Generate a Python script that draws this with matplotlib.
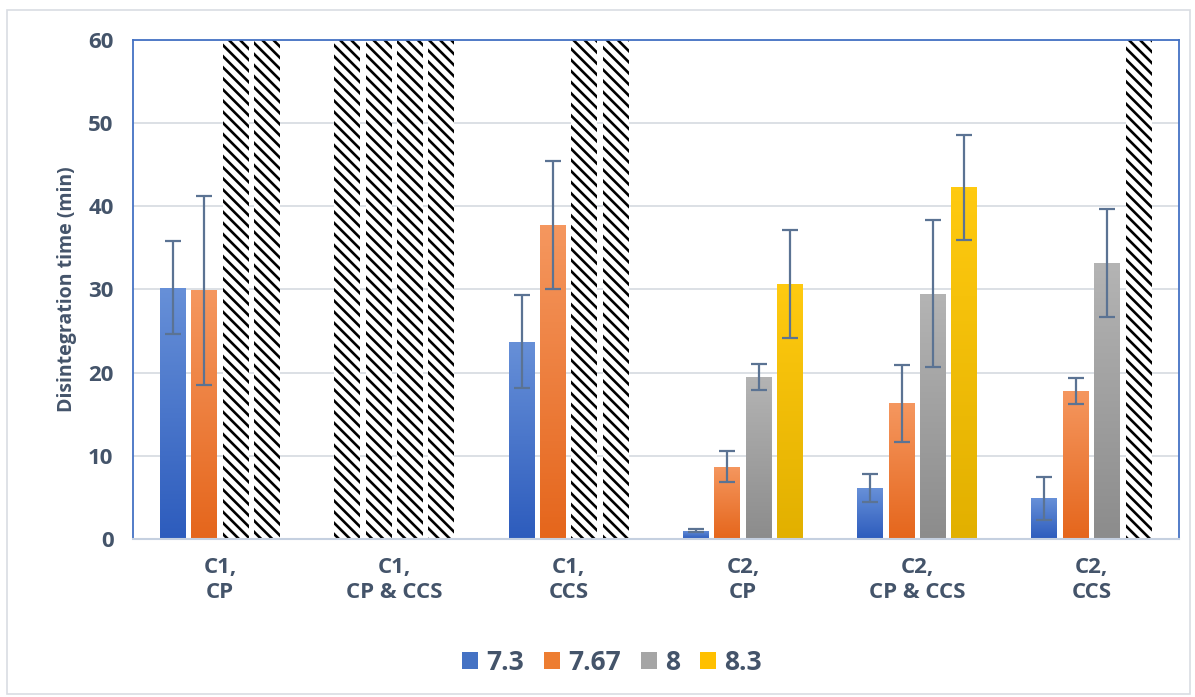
import numpy as np
import matplotlib.pyplot as plt
from matplotlib.patches import Rectangle
from matplotlib.colors import LinearSegmentedColormap

groups = ["C1,\nCP", "C1,\nCP & CCS", "C1,\nCCS", "C2,\nCP", "C2,\nCP & CCS", "C2,\nCCS"]
series = ["7.3", "7.67", "8", "8.3"]

# mean disintegration time per group; None = did not disintegrate (shown hatched at 60)
ph73 = [30.2, None, 23.7, 1.0, 6.1, 4.9]
ph767 = [29.9, None, 37.8, 8.7, 16.3, 17.8]
ph8 = [None, None, None, 19.5, 29.5, 33.2]
ph83 = [None, None, None, 30.7, 42.3, None]

err73 = [5.6, 0, 5.6, 0.2, 1.7, 2.6]
err767 = [11.4, 0, 7.7, 1.9, 4.6, 1.6]
err8 = [0, 0, 0, 1.6, 8.8, 6.5]
err83 = [0, 0, 0, 6.5, 6.3, 0]

values = [ph73, ph767, ph8, ph83]
errors = [err73, err767, err8, err83]

# top / bottom colours of the gradient fill
grad = [("#6790d8", "#2d5cbd"), ("#f5975f", "#e5661c"),
        ("#b4b4b4", "#8c8c8c"), ("#ffca10", "#e2b000")]
legend_cols = ["#4472c4", "#ed7d31", "#a5a5a5", "#ffc000"]
txt = "#44546a"

plt.rcParams['font.family'] = ['Open Sans', 'DejaVu Sans']
plt.rcParams['hatch.linewidth'] = 1.9

fig = plt.figure(figsize=(11.95, 6.97), dpi=100)
ax = fig.add_axes([0.1113, 0.2267, 0.8750, 0.7159])

ymax = 60
width = 0.149
step = 0.18
x = np.arange(len(groups))

for s in range(4):
    offs = (s - 1.5) * step
    for g in range(len(groups)):
        xc = x[g] + offs
        v = values[s][g]
        if v is None:
            ax.bar(xc, ymax, width, color="white", edgecolor="black",
                   linewidth=0, hatch="\\\\\\", zorder=2)
            continue
        rect = Rectangle((xc - width / 2, 0), width, v, facecolor="none",
                         edgecolor="none", zorder=2)
        ax.add_patch(rect)
        cmap = LinearSegmentedColormap.from_list("g", [grad[s][1], grad[s][0]])
        im = ax.imshow(np.linspace(0, 1, 100).reshape(-1, 1), cmap=cmap,
                       extent=(xc - width / 2, xc + width / 2, 0, v),
                       origin="lower", aspect="auto", zorder=2)
        im.set_clip_path(rect)
        if errors[s][g] > 0:
            ax.errorbar(xc, v, yerr=errors[s][g], fmt="none", ecolor="#5b7393",
                        elinewidth=1.6, capsize=6, capthick=1.6, zorder=3)

ax.set_xlim(-0.5, len(groups) - 0.5)
ax.set_ylim(0, ymax)
ax.set_yticks(range(0, 61, 10))
ax.yaxis.grid(True, color="#d9dde3", linewidth=1.3, zorder=0)
ax.set_axisbelow(True)
ax.set_xticks(x)
ax.set_xticklabels(groups, fontsize=16, fontweight="bold", color=txt, linespacing=1.25)
ax.tick_params(axis="y", labelsize=16, labelcolor=txt, length=0, pad=14)
for lab in ax.get_yticklabels():
    lab.set_fontweight("bold")
ax.tick_params(axis="x", length=0, pad=13)
ax.set_ylabel("Disintegration time (min)", fontsize=14, fontweight="bold",
              color=txt, labelpad=8)

for side in ["left", "top", "right"]:
    ax.spines[side].set_color("#4472c4")
    ax.spines[side].set_linewidth(1.3)
ax.spines["bottom"].set_color("#c5d0e0")
ax.spines["bottom"].set_linewidth(1.5)

handles = [Rectangle((0, 0), 1, 1, facecolor=c) for c in legend_cols]
leg = fig.legend(handles, series, loc="center", bbox_to_anchor=(0.512, 0.05),
                 ncol=4, frameon=False, handlelength=0.62, handleheight=0.62,
                 handletextpad=0.3, columnspacing=0.75,
                 prop={"size": 19, "weight": "bold"})
for t in leg.get_texts():
    t.set_color(txt)

fig.patches.append(Rectangle((0.006, 0.005), 0.99, 0.98, transform=fig.transFigure,
                             fill=False, edgecolor="#d9dde3", linewidth=1.2))

fig.savefig("out.png", dpi=100)
